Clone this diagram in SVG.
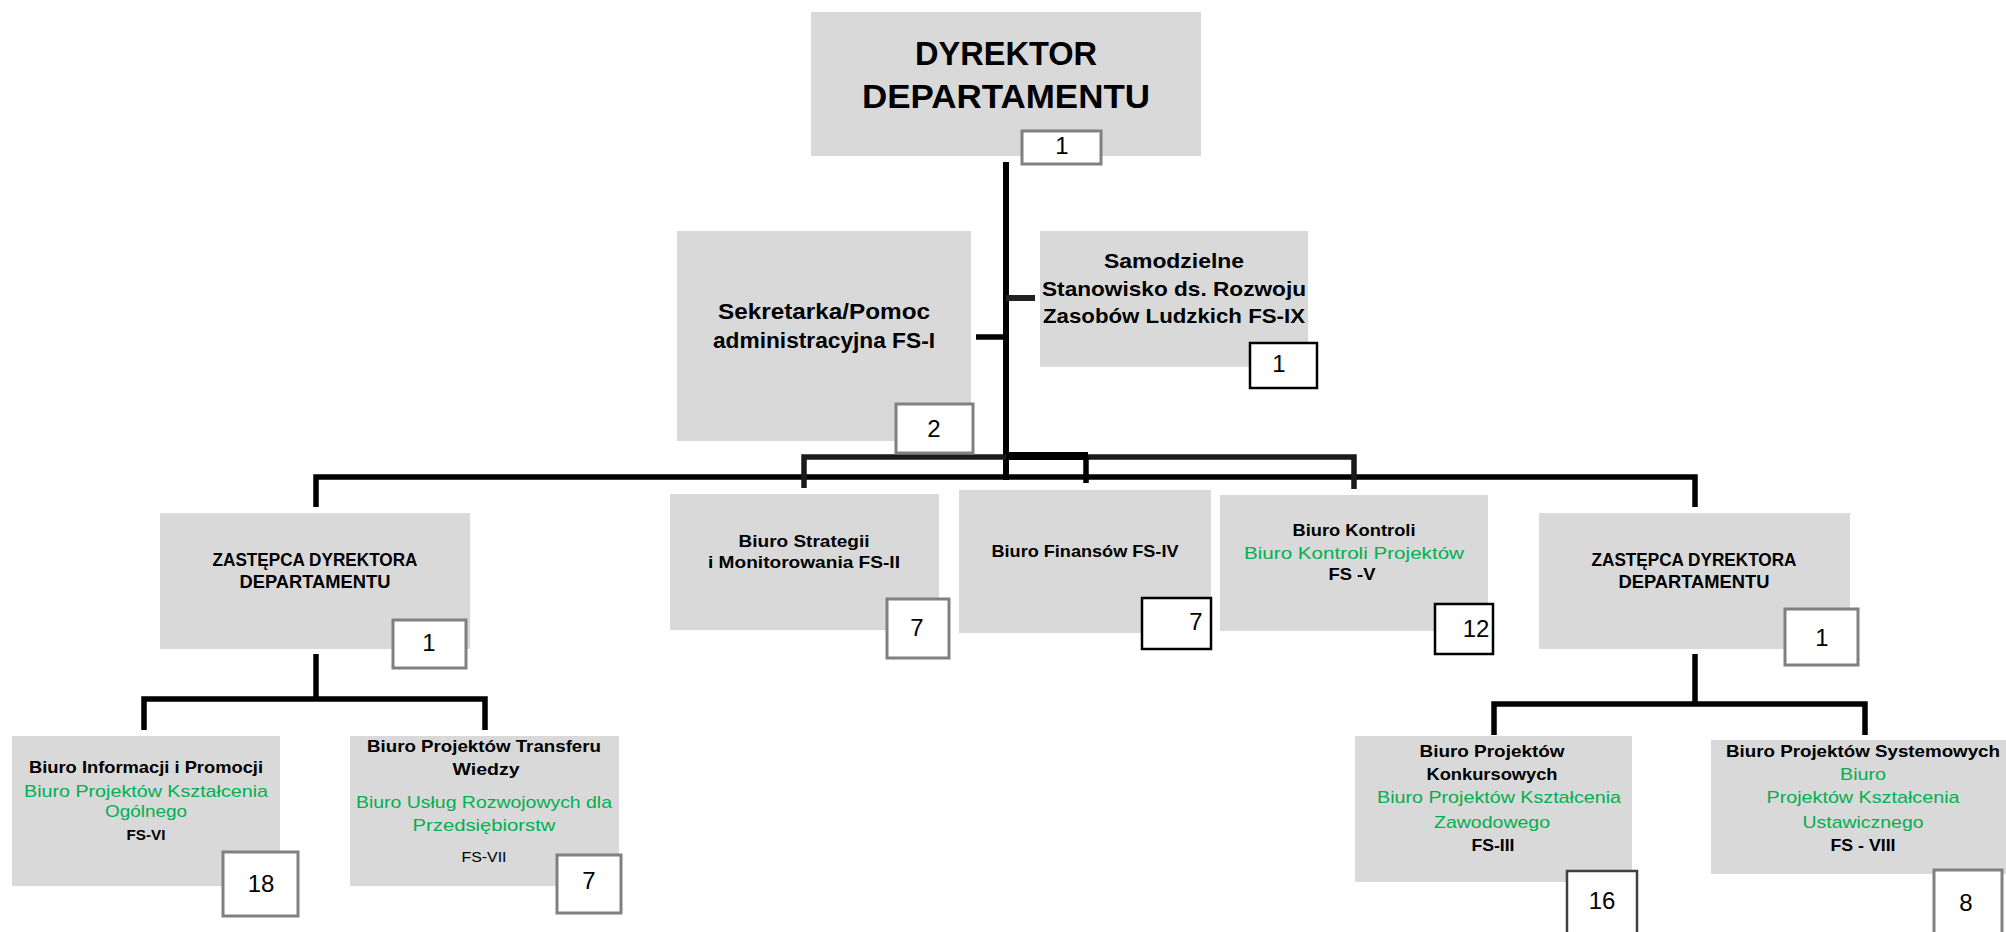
<svg xmlns="http://www.w3.org/2000/svg" width="2006" height="932" viewBox="0 0 2006 932">
<style>
.box{fill:#d9d9d9}
.nb{fill:#fff;stroke:#808080;stroke-width:3}
.nk{fill:#fff;stroke:#000;stroke-width:2.5}
.ln{fill:none;stroke:#000;stroke-width:5.5;stroke-linejoin:miter;stroke-linecap:butt}
.t{font-family:"Liberation Sans",Arial,sans-serif;text-anchor:middle;fill:#000}
.b{font-weight:bold}
.g{fill:#00b050}
.n{font-family:"Liberation Sans",Arial,sans-serif;text-anchor:middle;fill:#000;font-size:24px}
</style>
<rect width="2006" height="932" fill="#fff"/>
<g id="connectors">
<line class="ln" x1="1006" y1="162" x2="1006" y2="480" style="stroke-width:6"/>
<line class="ln" x1="976" y1="337" x2="1006" y2="337"/>
<line class="ln" x1="1006" y1="298" x2="1035" y2="298" style="stroke:#222;stroke-width:6"/>
<polyline class="ln" points="316,507 316,477 1695,477 1695,507"/>
<polyline class="ln" points="804,488 804,457 1354,457 1354,489" style="stroke:#1a1a1a"/>
<line class="ln" x1="1086" y1="457" x2="1086" y2="483"/>
<rect x="1006" y="452" width="82" height="8" fill="#000"/>
<line class="ln" x1="316" y1="654" x2="316" y2="699"/>
<polyline class="ln" points="144,730 144,699 485,699 485,730"/>
<line class="ln" x1="1695" y1="654" x2="1695" y2="704"/>
<polyline class="ln" points="1494,735 1494,704 1865,704 1865,735"/>
</g>
<g id="dyrektor">
<rect class="box" x="811" y="12" width="390" height="144"/>
<text class="t b" x="1006" y="65" font-size="34" textLength="182" lengthAdjust="spacingAndGlyphs">DYREKTOR</text>
<text class="t b" x="1006" y="108" font-size="34" textLength="288" lengthAdjust="spacingAndGlyphs">DEPARTAMENTU</text>
<rect class="nb" x="1022" y="131" width="79" height="33"/>
<text class="n" x="1062" y="154" font-size="21">1</text>
</g>
<g id="sekretarka">
<rect class="box" x="677" y="231" width="294" height="210"/>
<text class="t b" x="824" y="319" font-size="22" textLength="212" lengthAdjust="spacingAndGlyphs">Sekretarka/Pomoc</text>
<text class="t b" x="824" y="348" font-size="22" textLength="222" lengthAdjust="spacingAndGlyphs">administracyjna FS-I</text>
<rect class="nb" x="896" y="404" width="77" height="49"/>
<text class="n" x="934" y="437" font-size="22">2</text>
</g>
<g id="samodzielne">
<rect class="box" x="1040" y="231" width="268" height="136"/>
<text class="t b" x="1174" y="268" font-size="21" textLength="140" lengthAdjust="spacingAndGlyphs">Samodzielne</text>
<text class="t b" x="1174" y="296" font-size="21" textLength="264" lengthAdjust="spacingAndGlyphs">Stanowisko ds. Rozwoju</text>
<text class="t b" x="1174" y="323" font-size="21" textLength="262" lengthAdjust="spacingAndGlyphs">Zasobów Ludzkich FS-IX</text>
<rect class="nk" x="1250" y="343" width="67" height="45"/>
<text class="n" x="1279" y="372" font-size="22">1</text>
</g>
<g id="zastepca-l">
<rect class="box" x="160" y="513" width="310" height="136"/>
<text class="t b" x="315" y="566" font-size="18" textLength="205" lengthAdjust="spacingAndGlyphs">ZASTĘPCA DYREKTORA</text>
<text class="t b" x="315" y="588" font-size="18" textLength="151" lengthAdjust="spacingAndGlyphs">DEPARTAMENTU</text>
<rect class="nb" x="393" y="620" width="73" height="48"/>
<text class="n" x="429" y="651" font-size="24">1</text>
</g>
<g id="strategii">
<rect class="box" x="670" y="494" width="269" height="136"/>
<text class="t b" x="804" y="547" font-size="17" textLength="131" lengthAdjust="spacingAndGlyphs">Biuro Strategii</text>
<text class="t b" x="804" y="568" font-size="17" textLength="192" lengthAdjust="spacingAndGlyphs">i Monitorowania FS-II</text>
<rect class="nb" x="887" y="599" width="62" height="59"/>
<text class="n" x="917" y="636" font-size="25">7</text>
</g>
<g id="finansow">
<rect class="box" x="959" y="490" width="252" height="143"/>
<text class="t b" x="1085" y="557" font-size="17" textLength="187" lengthAdjust="spacingAndGlyphs">Biuro Finansów FS-IV</text>
<rect class="nk" x="1142" y="598" width="69" height="51"/>
<text class="n" x="1196" y="630" font-size="25">7</text>
</g>
<g id="kontroli">
<rect class="box" x="1220" y="495" width="268" height="136"/>
<text class="t b" x="1354" y="536" font-size="17" textLength="123" lengthAdjust="spacingAndGlyphs">Biuro Kontroli</text>
<text class="t g" x="1354" y="559" font-size="17" textLength="220" lengthAdjust="spacingAndGlyphs">Biuro Kontroli Projektów</text>
<text class="t b" x="1352" y="580" font-size="17" textLength="47" lengthAdjust="spacingAndGlyphs">FS -V</text>
<rect class="nk" x="1435" y="604" width="58" height="50"/>
<text class="n" x="1476" y="637" font-size="25">12</text>
</g>
<g id="zastepca-r">
<rect class="box" x="1539" y="513" width="311" height="136"/>
<text class="t b" x="1694" y="566" font-size="18" textLength="205" lengthAdjust="spacingAndGlyphs">ZASTĘPCA DYREKTORA</text>
<text class="t b" x="1694" y="588" font-size="18" textLength="151" lengthAdjust="spacingAndGlyphs">DEPARTAMENTU</text>
<rect class="nb" x="1785" y="609" width="73" height="56"/>
<text class="n" x="1822" y="646" font-size="24">1</text>
</g>
<g id="informacji">
<rect class="box" x="12" y="736" width="268" height="150"/>
<text class="t b" x="146" y="773" font-size="17" textLength="234" lengthAdjust="spacingAndGlyphs">Biuro Informacji i Promocji</text>
<text class="t g" x="146" y="797" font-size="17" textLength="244" lengthAdjust="spacingAndGlyphs">Biuro Projektów Kształcenia</text>
<text class="t g" x="146" y="817" font-size="17" textLength="82" lengthAdjust="spacingAndGlyphs">Ogólnego</text>
<text class="t b" x="146" y="840" font-size="15" textLength="39" lengthAdjust="spacingAndGlyphs">FS-VI</text>
<rect class="nb" x="223" y="852" width="75" height="64"/>
<text class="n" x="261" y="892" font-size="27">18</text>
</g>
<g id="transfer">
<rect class="box" x="350" y="736" width="269" height="150"/>
<text class="t b" x="484" y="752" font-size="17" textLength="234" lengthAdjust="spacingAndGlyphs">Biuro Projektów Transferu</text>
<text class="t b" x="486" y="775" font-size="17" textLength="67" lengthAdjust="spacingAndGlyphs">Wiedzy</text>
<text class="t g" x="484" y="808" font-size="17" textLength="256" lengthAdjust="spacingAndGlyphs">Biuro Usług Rozwojowych dla</text>
<text class="t g" x="484" y="831" font-size="17" textLength="143" lengthAdjust="spacingAndGlyphs">Przedsiębiorstw</text>
<text class="t" x="484" y="862" font-size="14" fill="#333" textLength="45" lengthAdjust="spacingAndGlyphs">FS-VII</text>
<rect class="nb" x="557" y="855" width="64" height="58"/>
<text class="n" x="589" y="889" font-size="25">7</text>
</g>
<g id="konkursowych">
<rect class="box" x="1355" y="736" width="277" height="146"/>
<text class="t b" x="1492" y="757" font-size="17" textLength="145" lengthAdjust="spacingAndGlyphs">Biuro Projektów</text>
<text class="t b" x="1492" y="780" font-size="17" textLength="131" lengthAdjust="spacingAndGlyphs">Konkursowych</text>
<text class="t g" x="1499" y="803" font-size="17" textLength="244" lengthAdjust="spacingAndGlyphs">Biuro Projektów Kształcenia</text>
<text class="t g" x="1492" y="828" font-size="17" textLength="116" lengthAdjust="spacingAndGlyphs">Zawodowego</text>
<text class="t b" x="1493" y="851" font-size="17" textLength="43" lengthAdjust="spacingAndGlyphs">FS-III</text>
<rect class="nk" x="1567" y="871" width="70" height="70" style="stroke:#404040"/>
<text class="n" x="1602" y="909" font-size="28">16</text>
</g>
<g id="systemowych">
<rect class="box" x="1711" y="740" width="295" height="134"/>
<text class="t b" x="1863" y="757" font-size="17" textLength="274" lengthAdjust="spacingAndGlyphs">Biuro Projektów Systemowych</text>
<text class="t g" x="1863" y="780" font-size="17" textLength="46" lengthAdjust="spacingAndGlyphs">Biuro</text>
<text class="t g" x="1863" y="803" font-size="17" textLength="193" lengthAdjust="spacingAndGlyphs">Projektów Kształcenia</text>
<text class="t g" x="1863" y="828" font-size="17" textLength="121" lengthAdjust="spacingAndGlyphs">Ustawicznego</text>
<text class="t b" x="1863" y="851" font-size="17" textLength="65" lengthAdjust="spacingAndGlyphs">FS - VIII</text>
<rect class="nb" x="1934" y="870" width="68" height="70"/>
<text class="n" x="1966" y="911" font-size="25">8</text>
</g>
</svg>
